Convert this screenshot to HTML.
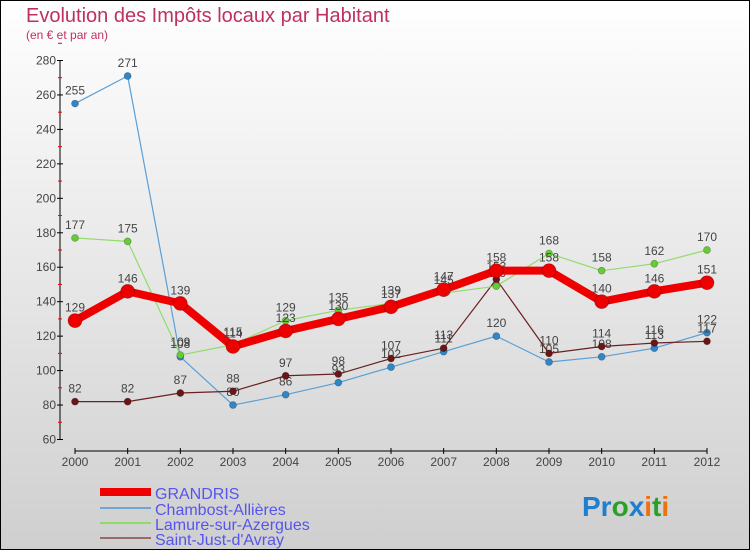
<!DOCTYPE html>
<html><head><meta charset="utf-8"><style>
body{margin:0;width:750px;height:550px;overflow:hidden}
svg{display:block;font-family:"Liberation Sans",sans-serif}
</style></head><body>
<svg id="chart" width="750" height="550">
<defs><linearGradient id="bg" x1="0" y1="0" x2="0" y2="1"><stop offset="0" stop-color="#ffffff"/><stop offset="1" stop-color="#cfcfcf"/></linearGradient></defs>
<rect x="0.5" y="0.5" width="749" height="549" fill="url(#bg)" stroke="#000"/>
<text x="26" y="22" font-size="20" fill="#c0305e">Evolution des Impôts locaux par Habitant</text>
<text x="26" y="39" font-size="12" fill="#c0305e">(en € et par an)</text>
<g id="axes"></g>
<g id="series"></g>
<g id="legend">
<rect x="100" y="488" width="51" height="8" fill="#e00"/>
<text x="155" y="499" font-size="16" fill="#5555ee">GRANDRIS</text>
<rect x="100" y="507" width="51" height="2" fill="#6fa6d6"/>
<text x="155" y="515" font-size="16" fill="#5555ee">Chambost-Allières</text>
<rect x="100" y="522" width="51" height="2" fill="#8fdc6a"/>
<text x="155" y="530" font-size="16" fill="#5555ee">Lamure-sur-Azergues</text>
<rect x="100" y="537" width="51" height="2" fill="#9a6a6a"/>
<text x="155" y="545" font-size="16" fill="#5555ee">Saint-Just-d'Avray</text>
</g>
<text x="582" y="516" font-size="28" font-weight="bold"><tspan fill="#1e7fd0">Pr</tspan><tspan fill="#2aa02a">o</tspan><tspan fill="#1e7fd0">x</tspan><tspan fill="#f07010">i</tspan><tspan fill="#2aa02a">t</tspan><tspan fill="#f07010">i</tspan></text>
</svg>
<script>
const years=[2000,2001,2002,2003,2004,2005,2006,2007,2008,2009,2010,2011,2012];
const yTicks=[60,80,100,120,140,160,180,200,220,240,260,280];
const grandris=[129,146,139,114,123,130,137,147,158,158,140,146,151];
const chambost=[255,271,108,80,86,93,102,111,120,105,108,113,122];
const lamure=[177,175,109,115,129,135,139,145,149,168,158,162,170];
const saintJust=[82,82,87,88,97,98,107,113,153,110,114,116,117];
const NS="http://www.w3.org/2000/svg";
function X(i){return 75+i*(707-75)/(years.length-1);}
function Y(v){return 439.5-(v-60)*(379/220);}
function mk(tag,attrs,parent){const e=document.createElementNS(NS,tag);for(const k in attrs)e.setAttribute(k,attrs[k]);parent.appendChild(e);return e;}
const axes=document.getElementById('axes');
const ya=mk('line',{x1:60,y1:60,x2:60,y2:440,stroke:'#000'},axes);


yTicks.forEach(v=>{
  const t=mk('line',{x1:57,x2:63,y1:Y(v),y2:Y(v),stroke:'#000'},axes);
  
  
  const m=mk('line',{x1:58,x2:62,y1:Y(v+10),y2:Y(v+10),stroke:'#e00'},axes);
  
  
  const l=mk('text',{x:56,y:Y(v)+4,'text-anchor':'end','font-size':12,fill:'#444'},axes);
  l.textContent=v;
  
  
});
const xa=mk('line',{x1:75,y1:451,x2:707,y2:451,stroke:'#000'},axes);


years.forEach((yr,i)=>{
  const t=mk('line',{x1:X(i),x2:X(i),y1:448,y2:454,stroke:'#000'},axes);
  
  
  const l=mk('text',{x:X(i),y:466,'text-anchor':'middle','font-size':12,fill:'#444'},axes);
  l.textContent=yr;
  
  
});
const sg=document.getElementById('series');
function draw(vals,name,color,dot,width,r){
  const g=mk('g',{},sg);
  
  
  const p=mk('polyline',{points:vals.map((v,i)=>X(i)+','+Y(v)).join(' '),fill:'none',stroke:color,'stroke-width':width,'stroke-linejoin':'round'},g);
  
  
  vals.forEach((v,i)=>{
    const c=mk('circle',{cx:X(i),cy:Y(v),r:r,fill:dot,stroke:'rgba(0,0,0,0.3)','stroke-width':0.7},g);
    
    
    const l=mk('text',{x:X(i),y:Y(v)-9,'text-anchor':'middle','font-size':12,fill:'#444'},g);
    l.textContent=v;
    
    
  });
}
draw(chambost,'chambost','#5a9fd6','#2f86c8',1.2,3.5);
draw(saintJust,'saint-just','#6a2020','#6a1616',1.2,3.5);
draw(lamure,'lamure','#8fdc6a','#66cc33',1.2,3.5);
draw(grandris,'grandris','#ee0000','#ee0000',8,7);
</script>
</body></html>
